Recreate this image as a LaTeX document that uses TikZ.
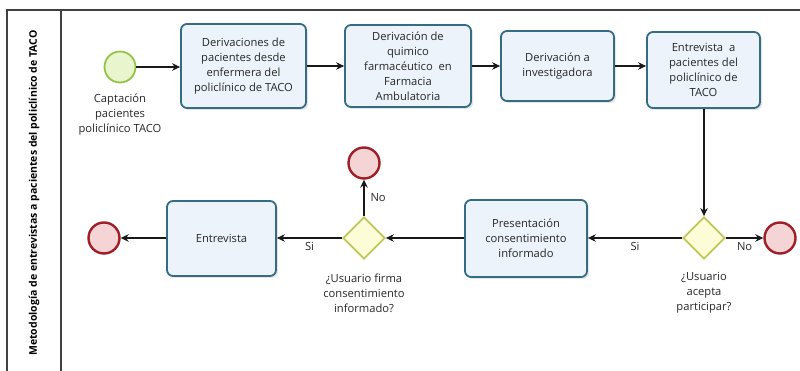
\documentclass[tikz,border=0pt]{standalone}
\usepackage{fontspec}
\setmainfont{Open Sans}
\usetikzlibrary{arrows.meta,shapes.geometric,shadows}
\definecolor{taskborder}{RGB}{52,108,130}
\definecolor{taskfill}{RGB}{236,243,250}
\definecolor{startborder}{RGB}{150,195,70}
\definecolor{startfill}{RGB}{232,245,205}
\definecolor{endborder}{RGB}{160,30,40}
\definecolor{endfill}{RGB}{245,212,214}
\definecolor{gateborder}{RGB}{190,200,90}
\definecolor{gatefill}{RGB}{252,252,215}
\definecolor{txt}{RGB}{40,40,40}
\tikzset{
  task/.style={draw=taskborder, line width=1.8pt, fill=taskfill, rounded corners=6pt,
    align=center, font=\fontsize{11.2}{15}\selectfont, text=txt, inner sep=2pt,
    drop shadow={shadow xshift=2pt, shadow yshift=-2pt, opacity=0.2}},
  startev/.style={circle, draw=startborder, line width=1.8pt, fill=startfill, minimum size=31pt, inner sep=0pt},
  endev/.style={circle, draw=endborder, line width=2.4pt, fill=endfill, minimum size=31pt, inner sep=0pt},
  gate/.style={diamond, draw=gateborder, line width=1.8pt, fill=gatefill, minimum width=42pt, minimum height=42pt, inner sep=0pt},
  lbl/.style={align=center, font=\fontsize{11.2}{15}\selectfont, text=txt, inner sep=0pt},
  flow/.style={-{Stealth[length=8pt,width=7.5pt]}, line width=1.1pt, draw=black!90},
  pool/.style={draw=black!75, line width=1.2pt}
}
\begin{document}
\begin{tikzpicture}[x=1pt,y=-1pt]
\useasboundingbox (0,0) rectangle (800,371);
% pool
\draw[pool] (801,10) -- (7,10) -- (7,372);
\draw[pool] (61,10) -- (61,372);
\node[rotate=90, font=\bfseries\fontsize{10.5}{12}\selectfont, text=black] (title) at (34,193)
  {Metodología de entrevistas a pacientes del policlínico de TACO};
% nodes
\node[startev] (start) at (120,67) {};
\node[lbl] (startlbl) at (120,115) {Captación\\pacientes\\policlínico TACO};
\node[task, minimum width=125pt, minimum height=84pt] (t1) at (243.5,66)
  {Derivaciones de\\pacientes desde\\enfermera del\\policlínico de TACO};
\node[task, minimum width=126pt, minimum height=82pt] (t2) at (408,66)
  {Derivación de\\quimico\\farmacéutico\ \ en\\Farmacia\\Ambulatoria};
\node[task, minimum width=113pt, minimum height=70pt] (t3) at (557.5,66)
  {Derivación a\\investigadora};
\node[task, minimum width=113pt, minimum height=76pt] (t4) at (703.5,70)
  {Entrevista\ \ a\\pacientes del\\policlínico de\\TACO};
\node[gate] (g1) at (704,238) {};
\node[lbl] (g1lbl) at (704,293) {¿Usuario\\acepta\\participar?};
\node[endev] (e1) at (780,238) {};
\node[task, minimum width=122pt, minimum height=77pt] (t5) at (526,238.5)
  {Presentación\\consentimiento\\informado};
\node[gate] (g2) at (364,238) {};
\node[lbl] (g2lbl) at (364,293) {¿Usuario firma\\consentimiento\\informado?};
\node[endev] (e2) at (364,163) {};
\node[task, minimum width=109pt, minimum height=75pt] (t6) at (221.5,238.5)
  {Entrevista};
\node[endev] (e3) at (104,238) {};
% flows
\draw[flow] (start) -- (start -| t1.west);
\draw[flow] (t1.east) -- (t1.east -| t2.west);
\draw[flow] (t2.east) -- (t2.east -| t3.west);
\draw[flow] (t3.east) -- (t3.east -| t4.west);
\draw[flow] (t4.south -| g1) -- (g1.north);
\draw[flow] (g1.east) -- (e1.west) node[pos=0.5, below=4pt, lbl] (no1) {No};
\draw[flow] (g1.west) -- (g1.west -| t5.east) node[pos=0.5, below=4pt, lbl] (si1) {Si};
\draw[flow] (t5.west |- g2) -- (g2.east);
\draw[flow] (g2.north) -- (e2.south) node[pos=0.5, right=6pt, lbl] (no2) {No};
\draw[flow] (g2.west) -- (g2.west -| t6.east) node[pos=0.5, below=4pt, lbl] (si2) {Si};
\draw[flow] (t6.west |- e3) -- (e3.east);
\end{tikzpicture}
\end{document}
